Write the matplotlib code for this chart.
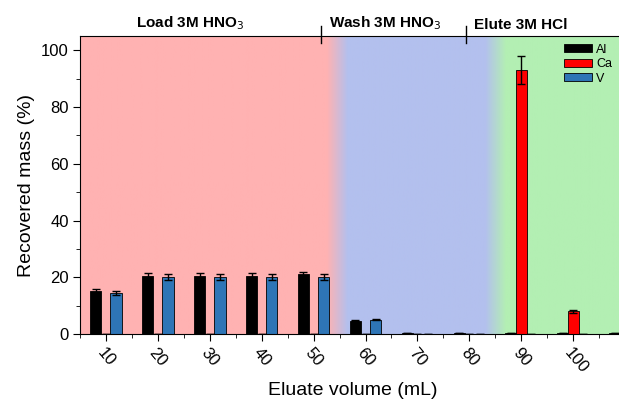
import numpy as np
import matplotlib
matplotlib.use('Agg')
import matplotlib.pyplot as plt
from matplotlib.colors import to_rgb

plt.rcParams['font.family'] = ['Liberation Sans', 'DejaVu Sans']

volumes = [10, 20, 30, 40, 50, 60, 70, 80, 90, 100, 110]
al = [15, 20.5, 20.5, 20.5, 21, 4.7, 0.3, 0.3, 0.3, 0.3, 0.3]
al_err = [1, 1, 1, 1, 1, 0.2, 0, 0, 0, 0, 0]
ca = [0, 0, 0, 0, 0, 0, 0, 0, 93, 8, 0]
ca_err = [0, 0, 0, 0, 0, 0, 0, 0, 5, 0.5, 0]
v = [14.5, 20, 20, 20, 20, 5, 0, 0, 0, 0, 0]
v_err = [0.8, 1, 1, 1, 1, 0.2, 0, 0, 0, 0, 0]

stages = ["Load 3M HNO$_3$", "Wash 3M HNO$_3$", "Elute 3M HCl"]
stage_x = [26.2, 63.8, 89.8]
dividers = [51.5, 79.4]

fig = plt.figure(figsize=(6.19, 4.01), dpi=100)
ax = fig.add_axes([0.129, 0.167, 0.881, 0.743])

# background gradient
xs = np.linspace(5, 110, 600)
pink, blue, green = to_rgb('#ffb2b2'), to_rgb('#b3c0ee'), to_rgb('#b3efb3')
stops = [5, 52.5, 56.5, 83, 87, 110]
cols = [pink, pink, blue, blue, green, green]
img = np.zeros((1, len(xs), 3))
for c in range(3):
    img[0, :, c] = np.interp(xs, stops, [k[c] for k in cols])
ax.imshow(img, extent=[5, 110, 0, 105], aspect='auto', zorder=0)

x = np.array(volumes)
w = 2.2
ekw = dict(ecolor='black', capsize=3, elinewidth=1, capthick=1)
ax.bar(x - 1.95, al, w, yerr=al_err, color='black', edgecolor='black', lw=0.6, label='Al', error_kw=ekw, zorder=2)
ax.bar(x, ca, w, yerr=ca_err, color='#ff0000', edgecolor='black', lw=0.6, label='Ca', error_kw=ekw, zorder=2)
ax.bar(x + 1.95, v, w, yerr=v_err, color='#2e75b6', edgecolor='black', lw=0.6, label='V', error_kw=ekw, zorder=2)

ax.set_xlim(5, 110)
ax.set_ylim(0, 105)
ax.set_xticks(volumes[:-1])
ax.set_xticks(np.arange(5, 111, 10), minor=True)
ax.set_yticks(np.arange(0, 101, 20))
ax.set_yticks(np.arange(10, 101, 20), minor=True)
ax.tick_params(axis='x', labelsize=12, labelrotation=-50, pad=3)
for lbl in ax.get_xticklabels():
    lbl.set_ha('left')
    lbl.set_rotation_mode('anchor')
ax.tick_params(axis='y', labelsize=12, pad=3)
ax.tick_params(which='major', length=5)
ax.tick_params(which='minor', length=3)
ax.spines['right'].set_visible(False)

ax.set_xlabel('Eluate volume (mL)', fontsize=14)
ax.set_ylabel('Recovered mass (%)', fontsize=14)

for s, sx in zip(stages, stage_x):
    ax.text(sx, 106.6, s, ha='center', va='bottom', fontsize=11, fontweight='bold')
for d in dividers:
    ax.plot([d, d], [102.5, 108.5], color='black', lw=1, clip_on=False)

ax.legend(loc='upper right', bbox_to_anchor=(0.99, 1.0), fontsize=9, frameon=False,
          handlelength=2.3, handleheight=0.6, labelspacing=0.2, handletextpad=0.3, borderpad=0.1)

fig.savefig('out.png', dpi=100)
